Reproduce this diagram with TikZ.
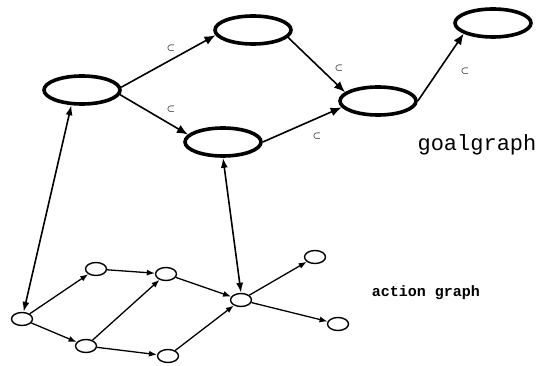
\documentclass[tikz,border=0pt]{standalone}
\usepackage{fontspec}
\setmonofont{Liberation Mono}
\usetikzlibrary{shapes.geometric,arrows.meta}

\begin{document}
\begin{tikzpicture}[x=1pt, y=-1pt,
    goal/.style={draw, ellipse, line width=3.6pt, minimum width=76pt, minimum height=28pt, inner sep=0pt},
    act/.style={draw, ellipse, line width=1.4pt, minimum width=21pt, minimum height=13pt, inner sep=0pt},
    gedge/.style={-{Latex[length=11pt,width=9pt]}, line width=1.6pt},
    aedge/.style={-{Latex[length=8pt,width=6pt]}, line width=1.3pt},
    link/.style={{Latex[length=10pt,width=7pt]}-{Latex[length=10pt,width=7pt]}, line width=1.6pt},
    sub/.style={font=\small\boldmath, inner sep=0pt}
  ]
  \useasboundingbox (0,0) rectangle (543,366);

  % goal graph
  \node[goal] (g1) at (82,90) {};
  \node[goal] (g2) at (253,30) {};
  \node[goal] (g3) at (223,142) {};
  \node[goal] (g4) at (378,101) {};
  \node[goal] (g5) at (493,23) {};

  \draw[gedge] (g1.4) -- (g2.188);
  \draw[gedge] (g1.-7) -- (g3.168);
  \draw[gedge] (g2.-12) -- (g4.165);
  \draw[gedge] (g3.east) -- (g4.190);
  \draw[gedge] (g4.east) -- (g5.200);

  \node[sub] (s12) at (171,48) {$\subset$};
  \node[sub] (s13) at (171,109) {$\subset$};
  \node[sub] (s24) at (339,68) {$\subset$};
  \node[sub] (s34) at (317,136) {$\subset$};
  \node[sub] (s45) at (465,71) {$\subset$};

  \node[font=\fontsize{22}{24}\ttfamily] (goallbl) at (477,145) {goalgraph};

  % action graph
  \node[act] (a1) at (22,319) {};
  \node[act] (a2) at (96,269) {};
  \node[act] (a3) at (166,274) {};
  \node[act] (a4) at (86,346) {};
  \node[act] (a5) at (168,356) {};
  \node[act] (a6) at (241,300) {};
  \node[act] (a7) at (315,257) {};
  \node[act] (a8) at (338,324) {};

  \draw[aedge] (a1) -- (a2);
  \draw[aedge] (a1) -- (a4);
  \draw[aedge] (a2) -- (a3);
  \draw[aedge] (a4) -- (a3);
  \draw[aedge] (a4) -- (a5);
  \draw[aedge] (a3) -- (a6);
  \draw[aedge] (a5) -- (a6);
  \draw[aedge] (a6) -- (a7);
  \draw[aedge] (a6) -- (a8);

  \node[font=\fontsize{15}{17}\ttfamily\bfseries] (actlbl) at (426,293) {action graph};

  % links between the graphs
  \draw[link] (g1.235) -- (a1);
  \draw[link] (g3.south) -- (a6.north);
\end{tikzpicture}
\end{document}
